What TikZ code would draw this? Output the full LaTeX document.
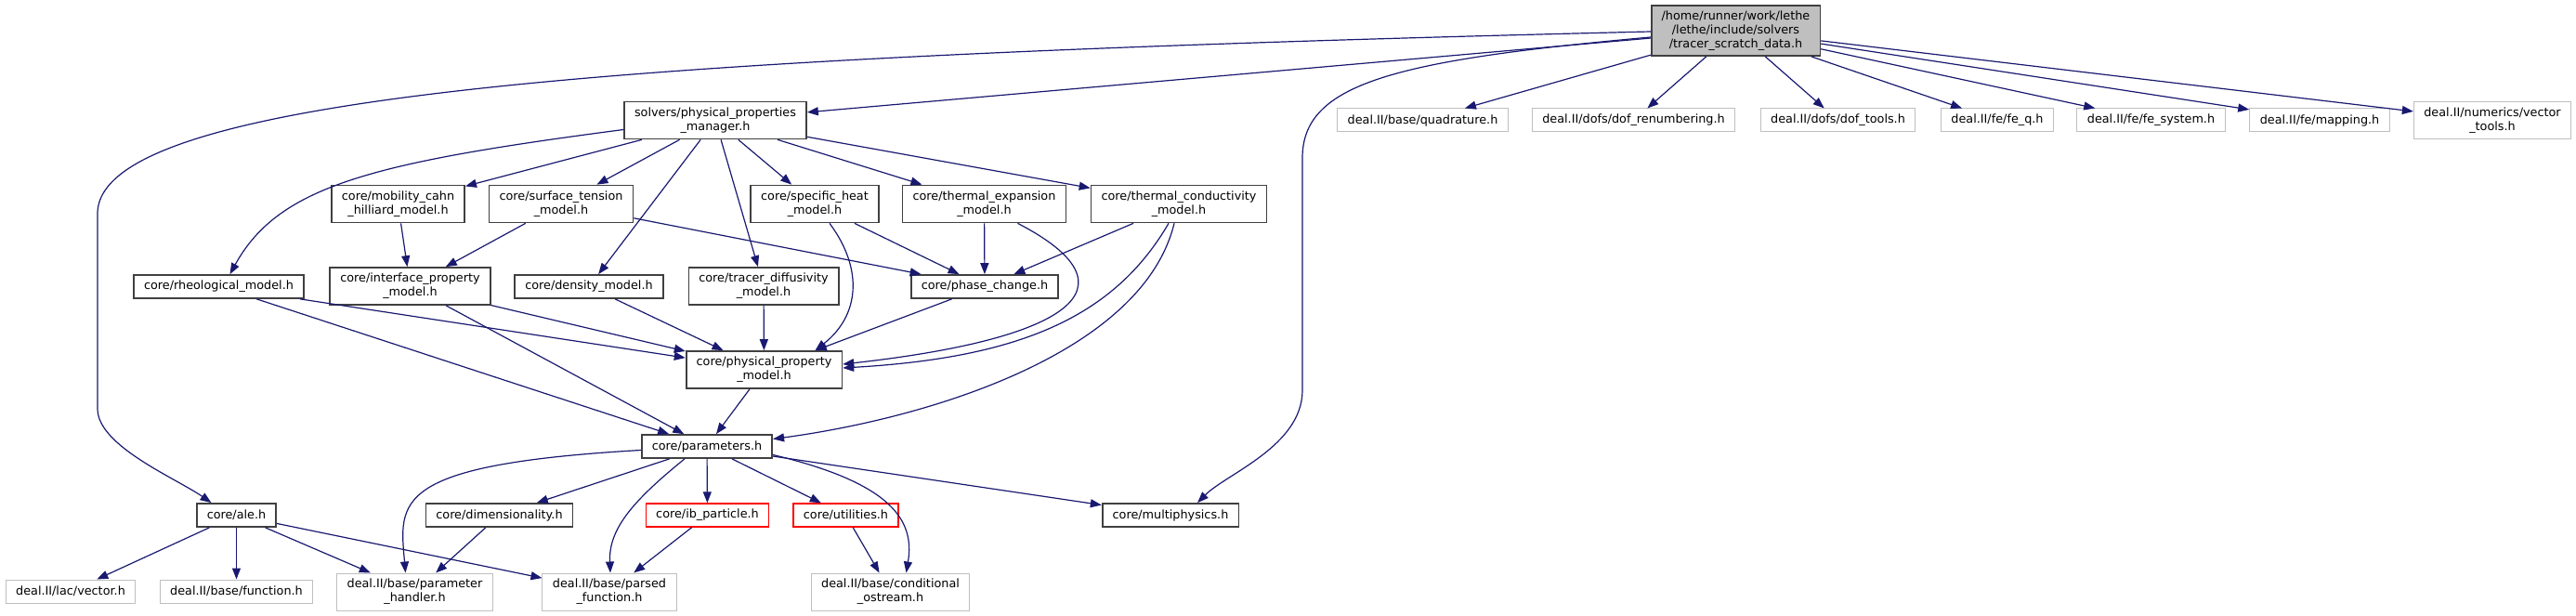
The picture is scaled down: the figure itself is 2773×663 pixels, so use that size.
\documentclass[tikz,border=0pt]{standalone}
\usepackage{fontspec}
\setmainfont{DejaVu Sans}
\usetikzlibrary{arrows.meta, calc}
\definecolor{midnightblue}{RGB}{25,25,112}
\definecolor{grey25}{RGB}{64,64,64}
\definecolor{grey75}{RGB}{191,191,191}

\begin{document}
\begin{tikzpicture}[x=0.5pt, y=-0.5pt, >={Triangle[length=6pt, width=4.5pt]},
        font=\fontsize{6.4}{7.5}\selectfont,
        file/.style={draw=grey25, line width=0.85pt, fill=white, inner xsep=5.5pt,
          inner ysep=1pt, minimum height=12.5pt, align=center},
        ext/.style={file, draw=grey75, line width=0.5pt},
        trunc/.style={file, draw=red, line width=0.7pt},
        tall/.style={minimum height=20pt},
        inc/.style={->, draw=midnightblue, line width=0.6pt}]
        \useasboundingbox (0,0) rectangle (2773,663);

        % Root file
        \node[file, fill=grey75, minimum height=27pt] (root) at (1868.5,33)
          {/home/runner/work/lethe\\/lethe/include/solvers\\/tracer\_scratch\_data.h};

        % deal.II headers, top row
        \node[ext] (quadrature) at (1531.5,129.5) {deal.II/base/quadrature.h};
        \node[ext] (dofrenum) at (1758.5,129.5) {deal.II/dofs/dof\_renumbering.h};
        \node[ext] (doftools) at (1978.5,129.5) {deal.II/dofs/dof\_tools.h};
        \node[ext] (feq) at (2150,129.5) {deal.II/fe/fe\_q.h};
        \node[ext] (fesystem) at (2315.5,129.5) {deal.II/fe/fe\_system.h};
        \node[ext] (mapping) at (2497,129.5) {deal.II/fe/mapping.h};
        \node[ext, tall] (vectortools) at (2683,130) {deal.II/numerics/vector\\\_tools.h};

        % Solvers
        \node[file, tall] (manager) at (770,129.5) {solvers/physical\_properties\\\_manager.h};

        % Property models
        \node[file, tall] (mobility) at (428.5,219.5) {core/mobility\_cahn\\\_hilliard\_model.h};
        \node[file, tall] (surface) at (604,219.5) {core/surface\_tension\\\_model.h};
        \node[file, tall] (specheat) at (877,219.5) {core/specific\_heat\\\_model.h};
        \node[file, tall] (thexp) at (1059.5,219.5) {core/thermal\_expansion\\\_model.h};
        \node[file, tall] (thcond) at (1269,219.5) {core/thermal\_conductivity\\\_model.h};

        \node[file] (rheo) at (235.5,308.5) {core/rheological\_model.h};
        \node[file, tall] (interface) at (441.5,308) {core/interface\_property\\\_model.h};
        \node[file] (density) at (634,308.5) {core/density\_model.h};
        \node[file, tall] (tracer) at (822,308) {core/tracer\_diffusivity\\\_model.h};
        \node[file] (phase) at (1060,308.5) {core/phase\_change.h};

        \node[file, tall] (propmodel) at (822.5,398) {core/physical\_property\\\_model.h};
        \node[file] (params) at (761,480.5) {core/parameters.h};

        % Lower core files
        \node[file] (ale) at (254.5,554.5) {core/ale.h};
        \node[file] (dimension) at (537.5,554.5) {core/dimensionality.h};
        \node[trunc] (ibpart) at (761.5,554.5) {core/ib\_particle.h};
        \node[trunc] (utilities) at (910.5,554.5) {core/utilities.h};
        \node[file] (multiphys) at (1260,554.5) {core/multiphysics.h};

        % deal.II headers, bottom row
        \node[ext] (lacvector) at (76,636.5) {deal.II/lac/vector.h};
        \node[ext] (function) at (254.5,636.5) {deal.II/base/function.h};
        \node[ext, tall] (paramhandler) at (446.5,637) {deal.II/base/parameter\\\_handler.h};
        \node[ext, tall] (parsedfunc) at (656,637) {deal.II/base/parsed\\\_function.h};
        \node[ext, tall] (condostream) at (958.5,637) {deal.II/base/conditional\\\_ostream.h};

        % Includes of the root file
        \draw[inc] ($(root.west)+(0,1)$) .. controls (700,60) and (105,100) .. (105,230)
          -- (105,440) .. controls (105,480) and (190,515) .. ($(ale.north)+(-27,0)$);
        \draw[inc] (root) -- (manager);
        \draw[inc] ($(root.west)+(0,7)$) .. controls (1500,65) and (1402,90) .. (1402,170)
          -- (1402,420) .. controls (1402,480) and (1320,510) .. ($(multiphys.north)+(29,0)$);
        \draw[inc] (root) -- (quadrature);
        \draw[inc] (root) -- (dofrenum);
        \draw[inc] (root) -- (doftools);
        \draw[inc] (root) -- (feq);
        \draw[inc] (root) -- (fesystem);
        \draw[inc] (root) -- (mapping);
        \draw[inc] (root) -- (vectortools);

        % Includes of the manager
        \draw[inc] ($(manager.west)+(0,10)$) .. controls (400,175) and (300,200) .. ($(rheo.north)+(12,0)$);
        \draw[inc] (manager) -- (mobility);
        \draw[inc] (manager) -- (surface);
        \draw[inc] (manager) -- (density);
        \draw[inc] (manager) -- (tracer);
        \draw[inc] (manager) -- (specheat);
        \draw[inc] (manager) -- (thexp);
        \draw[inc] (manager) -- (thcond);

        % Models
        \draw[inc] (mobility) -- (interface);
        \draw[inc] (surface) -- (interface);
        \draw[inc] (surface) -- (phase);
        \draw[inc] (specheat) -- (phase);
        \draw[inc] ($(specheat.south)+(16,0)$) .. controls (930,290) and (925,340) .. ($(propmodel.north)+(55,0)$);
        \draw[inc] (thexp) -- (phase);
        \draw[inc] ($(thexp.south)+(36,0)$) .. controls (1230,310) and (1150,365) .. ($(propmodel.east)+(0,-6)$);
        \draw[inc] (thcond) -- (phase);
        \draw[inc] ($(thcond.south)+(-11,0)$) .. controls (1200,340) and (1100,385) .. ($(propmodel.east)+(0,-2)$);
        \draw[inc] ($(thcond.south)+(-5,0)$) .. controls (1230,380) and (1000,450) .. ($(params.east)+(0,-8)$);
        \draw[inc] (rheo) -- (propmodel);
        \draw[inc] (rheo) -- (params);
        \draw[inc] (interface) -- (propmodel);
        \draw[inc] (interface) -- (params);
        \draw[inc] (density) -- (propmodel);
        \draw[inc] (tracer) -- (propmodel);
        \draw[inc] (phase) -- (propmodel);
        \draw[inc] (propmodel) -- (params);

        % Includes of parameters.h
        \draw[inc] ($(params.west)+(0,4)$) .. controls (420,500) and (430,540) .. ($(paramhandler.north)+(-10,0)$);
        \draw[inc] (params) -- (dimension);
        \draw[inc] ($(params.south)+(-24,0)$) .. controls (680,540) and (655,570) .. ($(parsedfunc.north)+(1,0)$);
        \draw[inc] (params) -- (ibpart);
        \draw[inc] (params) -- (utilities);
        \draw[inc] ($(params.east)+(0,9)$) .. controls (960,520) and (985,560) .. ($(condostream.north)+(17,0)$);
        \draw[inc] (params) -- (multiphys);

        % Bottom row
        \draw[inc] (ale) -- (lacvector);
        \draw[inc] (ale) -- (function);
        \draw[inc] (ale) -- (paramhandler);
        \draw[inc] (ale) -- (parsedfunc);
        \draw[inc] (dimension) -- (paramhandler);
        \draw[inc] (ibpart) -- (parsedfunc);
        \draw[inc] (utilities) -- (condostream);

      \end{tikzpicture}
\end{document}
